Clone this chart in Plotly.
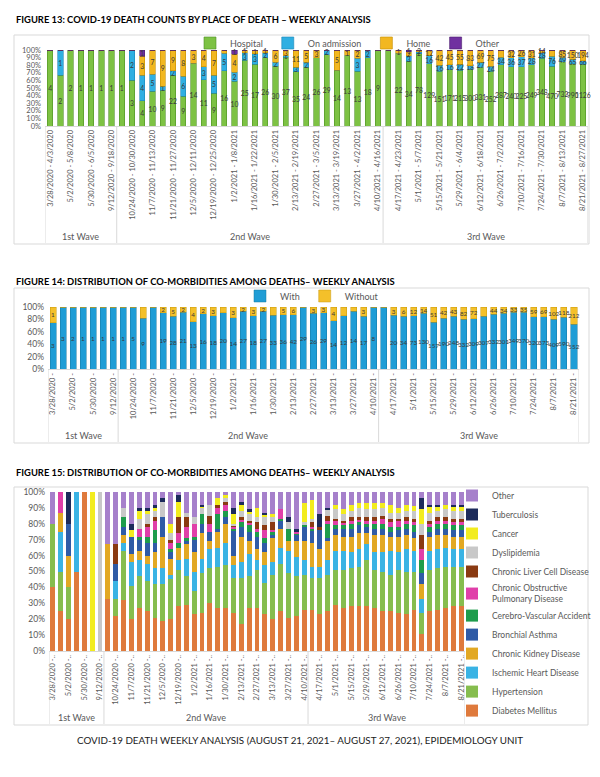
import plotly.graph_objects as go

# ---------------- data ----------------
weeks = [
    "3/28/2020 - 4/3/2020", "4/18/2020 - 4/24/2020", "5/2/2020 - 5/8/2020", "5/16/2020 - 5/22/2020",
    "5/30/2020 - 6/5/2020", "7/11/2020 - 7/17/2020", "9/12/2020 - 9/18/2020",
    "10/17/2020 - 10/23/2020", "10/24/2020 - 10/30/2020", "10/31/2020 - 11/6/2020", "11/7/2020 - 11/13/2020",
    "11/14/2020 - 11/20/2020", "11/21/2020 - 11/27/2020", "11/28/2020 - 12/4/2020", "12/5/2020 - 12/11/2020",
    "12/12/2020 - 12/18/2020", "12/19/2020 - 12/25/2020", "12/26/2020 - 1/1/2021", "1/2/2021 - 1/8/2021",
    "1/9/2021 - 1/15/2021", "1/16/2021 - 1/22/2021", "1/23/2021 - 1/29/2021", "1/30/2021 - 2/5/2021",
    "2/6/2021 - 2/12/2021", "2/13/2021 - 2/19/2021", "2/20/2021 - 2/26/2021", "2/27/2021 - 3/5/2021",
    "3/6/2021 - 3/12/2021", "3/13/2021 - 3/19/2021", "3/20/2021 - 3/26/2021", "3/27/2021 - 4/2/2021",
    "4/3/2021 - 4/9/2021", "4/10/2021 - 4/16/2021",
    "4/11/2021 - 4/16/2021", "4/17/2021 - 4/23/2021", "4/24/2021 - 4/30/2021", "5/1/2021 - 5/7/2021",
    "5/8/2021 - 5/14/2021", "5/15/2021 - 5/21/2021", "5/22/2021 - 5/28/2021", "5/29/2021 - 6/4/2021",
    "6/5/2021 - 6/11/2021", "6/12/2021 - 6/18/2021", "6/19/2021 - 6/25/2021", "6/26/2021 - 7/2/2021",
    "7/3/2021 - 7/9/2021", "7/10/2021 - 7/16/2021", "7/17/2021 - 7/23/2021", "7/24/2021 - 7/30/2021",
    "7/31/2021 - 8/6/2021", "8/7/2021 - 8/13/2021", "8/14/2021 - 8/20/2021", "8/21/2021 - 8/27/2021",
]
wave_names = ["1st Wave", "2nd Wave", "3rd Wave"]
wave_sizes = [7, 26, 20]

# Figure 13 - place of death (counts)
hospital = [4, 2, 2, 1, 1, 1, 1, 1, 3, 4, 10, 9, 22, 9, 14, 11, 9, 16, 10, 25, 17, 26, 30, 37, 35, 24, 26, 29,
            14, 13, 13, 18, 9, 11, 22, 34, 78, 129, 151, 171, 215, 300, 331, 252, 287, 240, 225, 249, 348, 470,
            732, 990, 1126]
on_admission = [0, 1, 0, 0, 0, 0, 0, 0, 2, 4, 5, 1, 2, 6, 0, 3, 5, 5, 2, 3, 3, 2, 2, 1, 3, 2, 0, 2, 0, 0, 3, 2,
                0, 0, 0, 3, 2, 16, 16, 16, 22, 18, 27, 24, 34, 36, 37, 28, 28, 76, 49, 65, 66]
home = [0, 0, 0, 0, 0, 0, 0, 0, 0, 3, 7, 9, 9, 8, 3, 4, 7, 1, 4, 1, 1, 1, 6, 3, 11, 5, 3, 0, 5, 1, 2, 0, 0, 0,
        1, 2, 2, 12, 42, 45, 55, 83, 69, 75, 34, 32, 26, 31, 14, 51, 85, 150, 194]
other_place = [0, 0, 0, 0, 0, 0, 0, 0, 0, 1, 0, 0, 0, 0, 0, 0, 0, 0, 1, 0, 0, 0, 0, 0, 0, 0, 0, 0, 0, 0, 0, 0,
               0, 0, 0, 1, 0, 0, 0, 0, 0, 0, 0, 0, 0, 0, 0, 0, 0, 0, 0, 0, 0]

# Figure 14 - with / without co-morbidities (counts)
with_comorb = [3, 3, 2, 1, 1, 1, 1, 1, 5, 9, 22, 19, 28, 21, 13, 16, 18, 20, 14, 27, 18, 27, 33, 36, 42, 29, 26,
               29, 14, 12, 14, 17, 8, 11, 20, 34, 73, 130, 157, 190, 248, 332, 309, 307, 332, 301, 349, 370, 320,
               373, 409, 590, 552]
without_comorb = [1, 0, 0, 0, 0, 0, 0, 0, 0, 2, 0, 2, 5, 2, 4, 2, 3, 2, 3, 2, 3, 2, 5, 5, 6, 0, 3, 3, 4, 2, 1, 3,
                  0, 0, 3, 6, 12, 14, 51, 42, 43, 82, 72, 54, 44, 34, 33, 35, 59, 69, 102, 118, 212]

# Figure 15 - distribution of co-morbidities (%)
diabetes = [40, 25, 20, 50, 100, 0, 0, 33, 22, 32, 20, 27, 25, 21, 19, 20, 28, 29, 23, 24, 30, 27, 27, 24, 17,
            27, 27, 23, 20, 25, 21, 22, 26, 26, 23, 25, 29, 27, 28, 28, 28, 27, 25, 25, 24, 23, 26, 11, 25, 26,
            27, 28, 28]
hypertension = [40, 25, 20, 0, 0, 0, 0, 0, 11, 31, 21, 20, 19, 21, 23, 25, 23, 18, 15, 25, 22, 26, 27, 22, 29,
                20, 24, 20, 28, 30, 28, 25, 22, 20, 23, 23, 22, 24, 24, 25, 29, 24, 25, 23, 27, 27, 24, 13, 26,
                26, 26, 25, 25]
ischemic_heart = [0, 25, 0, 50, 0, 0, 0, 0, 11, 5, 15, 10, 11, 10, 10, 3, 6, 11, 12, 9, 12, 12, 14, 8, 10, 14,
                  6, 11, 8, 10, 14, 12, 9, 7, 7, 9, 12, 12, 10, 11, 10, 11, 12, 15, 11, 14, 13, 9, 12, 12, 12,
                  11, 11]
chronic_kidney = [0, 12, 20, 0, 0, 0, 0, 34, 0, 5, 5, 6, 5, 10, 20, 10, 8, 9, 12, 16, 5, 10, 12, 6, 16, 8, 7,
                  8, 15, 12, 6, 10, 12, 15, 11, 12, 10, 9, 10, 10, 7, 11, 11, 9, 10, 9, 8, 9, 9, 9, 8, 8, 8]
bronchial_asthma = [0, 0, 20, 0, 0, 0, 0, 0, 11, 5, 11, 7, 8, 6, 12, 4, 0, 2, 8, 6, 6, 2, 4, 16, 6, 6, 8, 6, 2,
                    5, 0, 4, 9, 8, 12, 2, 4, 5, 5, 5, 4, 4, 4, 3, 4, 4, 4, 7, 3, 4, 4, 4, 4]
cerebro_vascular = [0, 0, 0, 0, 0, 0, 0, 0, 0, 6, 0, 2, 4, 8, 0, 2, 3, 2, 2, 6, 0, 9, 4, 1, 3, 4, 3, 3, 2, 1, 8,
                    1, 1, 1, 0, 9, 2, 2, 3, 2, 2, 3, 3, 3, 2, 3, 4, 8, 3, 3, 3, 3, 3]
copd = [0, 13, 0, 0, 0, 0, 0, 0, 0, 0, 0, 5, 6, 6, 0, 4, 6, 7, 8, 0, 5, 4, 4, 1, 2, 2, 2, 5, 1, 6, 0, 1, 0, 1,
        0, 2, 3, 2, 2, 2, 2, 2, 3, 3, 4, 2, 2, 7, 2, 2, 2, 2, 2]
chronic_liver = [0, 0, 0, 0, 0, 0, 0, 0, 12, 0, 0, 0, 2, 2, 0, 2, 10, 6, 0, 0, 5, 2, 2, 1, 1, 1, 4, 3, 5, 0, 0,
                 0, 0, 3, 2, 3, 1, 1, 2, 1, 2, 2, 2, 2, 1, 2, 2, 9, 2, 2, 2, 2, 2]
dyslipidemia = [0, 0, 0, 0, 0, 0, 100, 0, 0, 6, 0, 6, 6, 4, 10, 4, 0, 3, 4, 4, 7, 0, 2, 1, 4, 4, 3, 5, 3, 0, 4,
                0, 2, 2, 0, 4, 6, 4, 4, 6, 5, 5, 5, 4, 4, 4, 5, 7, 5, 4, 5, 5, 5]
cancer = [0, 0, 0, 0, 0, 100, 0, 0, 0, 0, 4, 5, 2, 2, 0, 6, 10, 0, 0, 1, 0, 4, 2, 6, 4, 2, 6, 2, 2, 0, 0, 0, 12,
          12, 0, 0, 3, 3, 4, 3, 4, 4, 3, 5, 3, 4, 3, 9, 4, 3, 3, 3, 3]
tuberculosis = [0, 0, 20, 0, 0, 0, 0, 0, 0, 0, 4, 2, 2, 2, 2, 0, 4, 0, 0, 1, 0, 0, 0, 4, 2, 1, 0, 1, 0, 0, 3, 2,
                0, 0, 8, 1, 0, 0, 0, 0, 0, 0, 0, 0, 0, 0, 0, 7, 1, 1, 0, 1, 1]
other_comorb = [20, 0, 0, 0, 0, 0, 0, 33, 33, 10, 20, 10, 10, 8, 4, 20, 2, 13, 16, 8, 8, 4, 2, 10, 6, 11, 10, 13,
                14, 11, 16, 23, 7, 5, 14, 10, 8, 11, 8, 7, 7, 7, 7, 8, 10, 8, 9, 4, 8, 8, 8, 8, 8]

# ---------------- helpers ----------------
# the page body has an 8px default margin, so the figure is offset by 8px;
# reference pixel positions are mapped into figure coordinates accordingly
OFF = 8
W, H = 600 - OFF, 777 - OFF
FONT = "Lato"
GREY = "#595959"
BORDER = "#d9d9d9"


def yp(px):
    return 1 - (px - OFF) / H


def xp(px):
    return (px - OFF) / W


idx = list(range(len(weeks)))
even = idx[::2]
short = [w.split(" - ")[0] + " -" for w in weeks]


def lbl(vals):
    return [str(v) if v else "" for v in vals]


fig = go.Figure()

fig13_series = [
    ("Hospital", hospital, "#7dc243", "#4f8f27"),
    ("On admission", on_admission, "#2fafe2", "#1c85b6"),
    ("Home", home, "#f2b720", "#c48d00"),
    ("Other", other_place, "#7030a0", "#4a1f6b"),
]
for name, vals, col, edge in fig13_series:
    fig.add_trace(go.Bar(
        x=idx, y=vals, name=name, width=0.52,
        marker=dict(color=col, line=dict(color=edge, width=0.6)),
        text=lbl(vals), textposition="inside", insidetextanchor="middle", textangle=0,
        constraintext="none", cliponaxis=False,
        textfont=dict(family=FONT, size=6.8, color="#3a3a3a"),
        xaxis="x", yaxis="y", legend="legend"))

fig14_series = [
    ("With", with_comorb, "#1f9dd6", "#17789f"),
    ("Without", without_comorb, "#f4c02a", "#c89a10"),
]
for name, vals, col, edge in fig14_series:
    fig.add_trace(go.Bar(
        x=idx, y=vals, name=name, width=0.6,
        marker=dict(color=col, line=dict(color=edge, width=0.5)),
        text=lbl(vals), textposition="inside", insidetextanchor="middle", textangle=0,
        constraintext="none", cliponaxis=False,
        textfont=dict(family=FONT, size=6.3, color="#3a3a3a"),
        xaxis="x2", yaxis="y2", legend="legend2"))

fig15_series = [
    ("Diabetes Mellitus", diabetes, "#df7a3c"),
    ("Hypertension", hypertension, "#86bd4e"),
    ("Ischemic Heart Disease", ischemic_heart, "#3ab3e4"),
    ("Chronic Kidney Disease", chronic_kidney, "#e2a823"),
    ("Bronchial Asthma", bronchial_asthma, "#2f5ba6"),
    ("Cerebro-Vascular Accident", cerebro_vascular, "#1e9c4c"),
    ("Chronic Obstructive<br>Pulmonary Disease", copd, "#e03fa9"),
    ("Chronic Liver Cell Disease", chronic_liver, "#8a3a12"),
    ("Dyslipidemia", dyslipidemia, "#c8c8c8"),
    ("Cancer", cancer, "#f2ec1e"),
    ("Tuberculosis", tuberculosis, "#1d2b5b"),
    ("Other", other_comorb, "#a680cb"),
]
for name, vals, col in fig15_series:
    fig.add_trace(go.Bar(
        x=idx, y=vals, name=name, width=0.62,
        marker=dict(color=col, line=dict(width=0)),
        xaxis="x3", yaxis="y3", legend="legend3"))

# ---------------- axes ----------------
n = len(weeks)
common_x = dict(range=[-0.5, n - 0.5], tickmode="array", tickvals=even, tickangle=-90,
                showline=True, linecolor=BORDER, showgrid=False, zeroline=False, ticks="",
                tickfont=dict(family=FONT, size=7.5, color=GREY), fixedrange=True, automargin=False)
common_y = dict(range=[0, 100], tickmode="array", showgrid=False, zeroline=False, showline=False,
                fixedrange=True, automargin=False, ticklabelstandoff=3)

pct10 = list(range(0, 101, 10))
pct20 = list(range(0, 101, 20))

fig.update_layout(
    width=W, height=H, margin=dict(l=0, r=0, t=0, b=0, pad=0),
    paper_bgcolor="white", plot_bgcolor="white",
    barmode="stack", barnorm="percent",
    font=dict(family=FONT, color=GREY),
    xaxis=dict(common_x, domain=[xp(45), xp(588)], anchor="y",
               ticktext=[weeks[i] for i in even]),
    yaxis=dict(common_y, domain=[yp(126), yp(50)], anchor="x", tickvals=pct10,
               ticktext=[f"{v}%" for v in pct10], tickfont=dict(family=FONT, size=7.5, color=GREY)),
    xaxis2=dict(common_x, domain=[xp(48), xp(579)], anchor="y2",
                ticktext=[short[i] for i in even]),
    yaxis2=dict(common_y, domain=[yp(369), yp(307)], anchor="x2", tickvals=pct20,
                ticktext=[f"{v}%" for v in pct20], tickfont=dict(family=FONT, size=8.5, color=GREY)),
    xaxis3=dict(common_x, domain=[xp(49), xp(465)], anchor="y3",
                ticktext=[short[i] + ".." for i in even]),
    yaxis3=dict(common_y, domain=[yp(651), yp(492)], anchor="x3", tickvals=pct10,
                ticktext=[f"{v}%" for v in pct10], tickfont=dict(family=FONT, size=8.5, color=GREY)),
    legend=dict(orientation="h", x=xp(190), y=yp(43), xanchor="left", yanchor="middle",
                traceorder="normal", bgcolor="rgba(0,0,0,0)", font=dict(family=FONT, size=9, color=GREY)),
    legend2=dict(orientation="h", x=xp(240), y=yp(296), xanchor="left", yanchor="middle",
                 traceorder="normal", bgcolor="rgba(0,0,0,0)", font=dict(family=FONT, size=9, color=GREY)),
    legend3=dict(orientation="v", x=xp(452), y=yp(481), xanchor="left", yanchor="top",
                 traceorder="reversed", bgcolor="rgba(0,0,0,0)", font=dict(family=FONT, size=8.5, color=GREY)),
)

# ---------------- frames, wave groups, titles ----------------
shapes = []
annotations = []

for (x0, y0, x1, y1) in [(14, 35, 589, 244), (14, 288, 589, 443), (14, 487, 588, 725)]:
    shapes.append(dict(type="rect", xref="paper", yref="paper", x0=xp(x0), x1=xp(x1), y0=yp(y1), y1=yp(y0),
                       line=dict(color=BORDER, width=1), fillcolor="rgba(0,0,0,0)", layer="below"))

bounds = [-0.5]
for s in wave_sizes:
    bounds.append(bounds[-1] + s)

for xref, axis_px, bottom_px, label_px in [("x", 126, 243, 237), ("x2", 369, 442, 435), ("x3", 651, 724, 717)]:
    for b in bounds:
        shapes.append(dict(type="line", xref=xref, yref="paper", x0=b, x1=b, y0=yp(axis_px), y1=yp(bottom_px),
                           line=dict(color=BORDER, width=1)))
    for name, a, b in zip(wave_names, bounds[:-1], bounds[1:]):
        annotations.append(dict(xref=xref, yref="paper", x=(a + b) / 2, y=yp(label_px), text=name,
                                showarrow=False, xanchor="center", yanchor="middle",
                                font=dict(family=FONT, size=9, color=GREY)))

titles = [
    (20, "FIGURE 13: COVID-19 DEATH COUNTS BY PLACE OF DEATH – WEEKLY ANALYSIS"),
    (281, "FIGURE 14: DISTRIBUTION OF CO-MORBIDITIES AMONG DEATHS– WEEKLY ANALYSIS"),
    (472, "FIGURE 15: DISTRIBUTION OF CO-MORBIDITIES AMONG DEATHS– WEEKLY ANALYSIS"),
]
for ypx, t in titles:
    annotations.append(dict(xref="paper", yref="paper", x=xp(14), y=yp(ypx), text="<b>" + t + "</b>",
                            showarrow=False, xanchor="left", yanchor="middle",
                            font=dict(family=FONT, size=9.4, color="#000000")))

annotations.append(dict(xref="paper", yref="paper", x=xp(300), y=yp(740),
                        text="COVID-19 DEATH WEEKLY ANALYSIS (AUGUST 21, 2021– AUGUST 27, 2021), EPIDEMIOLOGY UNIT",
                        showarrow=False, xanchor="center", yanchor="middle",
                        font=dict(family=FONT, size=9.8, color="#1a1a1a")))

fig.update_layout(shapes=shapes, annotations=annotations)
fig.write_html("out.html")
